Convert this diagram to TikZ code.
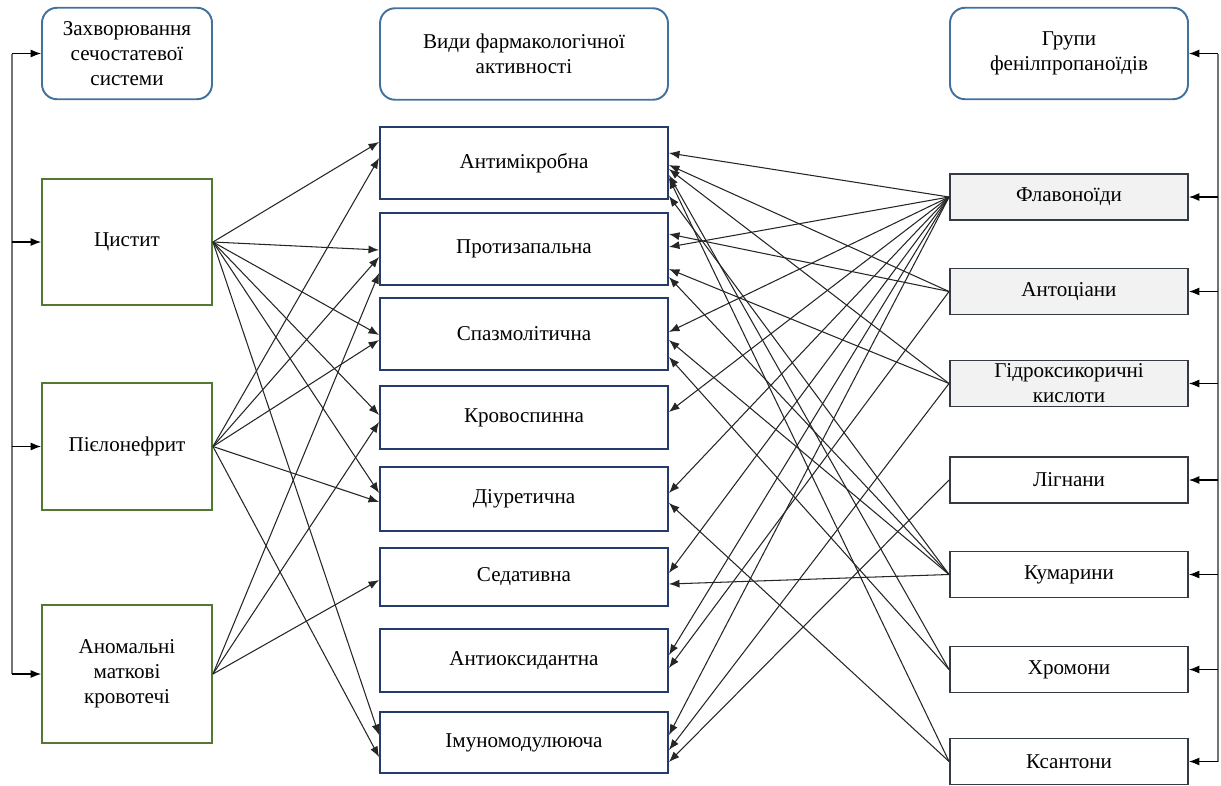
\documentclass[tikz,border=0pt]{standalone}
\usepackage{fontspec}
\setmainfont{Liberation Serif}
\usepackage{tikz}
\usetikzlibrary{arrows.meta}
\definecolor{hdrblue}{RGB}{65,113,156}
\definecolor{disgreen}{RGB}{84,120,52}
\definecolor{actblue}{RGB}{36,60,108}
\definecolor{grpgrey}{RGB}{52,58,68}
\definecolor{grpfill}{RGB}{242,242,242}
\colorlet{brline}{black!55}
\colorlet{linkline}{black!85}

\begin{document}
\begin{tikzpicture}[
x=0.02cm, y=-0.02cm,
every node/.style={font=\rmfamily\fontsize{12}{14.2}\selectfont, align=center, inner sep=0pt},
Header/.style={draw=hdrblue, line width=1.1pt, rounded corners=0.3cm, minimum height=1.83cm},
Disease/.style={draw=disgreen, line width=1.1pt, minimum width=3.4cm},
Activity/.style={draw=actblue, line width=1.1pt, minimum width=5.76cm},
Group/.style={draw=grpgrey, line width=1.1pt, minimum width=4.76cm, minimum height=0.92cm},
GroupShaded/.style={Group, fill=grpfill},
Links/.style={-{Latex[length=6pt, width=4.6pt]}, draw=linkline, line width=0.6pt},
Bracket/.style={draw=brline, line width=0.9pt},
BrArrow/.style={-{Latex[length=6pt, width=4.6pt]}, line width=0.6pt}
]
\useasboundingbox (0,0) rectangle (1221,785);

% headers
\node[Header, minimum width=3.4cm] (hdis) at (127,53.5) {Захворювання\\сечостатевої\\системи};
\node[Header, minimum width=5.76cm] (hact) at (524,54) {Види фармакологічної\\активності};
\node[Header, minimum width=4.76cm] (hgrp) at (1069,53.5) {Групи\\фенілпропаноїдів};

% diseases
\node[Disease, minimum height=2.52cm] (cyst) at (127,242) {Цистит};
\node[Disease, minimum height=2.54cm] (pyelo) at (127,446.5) {Пієлонефрит};
\node[Disease, minimum height=2.76cm] (aub) at (127,674) {Аномальні\\маткові\\кровотечі};

% kinds of activity
\node[Activity, minimum height=1.44cm] (antimicro) at (524,163) {Антимікробна};
\node[Activity, minimum height=1.44cm] (antiinfl) at (524,249) {Протизапальна};
\node[Activity, minimum height=1.44cm] (spasmo) at (524,334) {Спазмолітична};
\node[Activity, minimum height=1.26cm] (hemo) at (524,417.5) {Кровоспинна};
\node[Activity, minimum height=1.28cm] (diur) at (524,499) {Діуретична};
\node[Activity, minimum height=1.16cm] (sed) at (524,577) {Седативна};
\node[Activity, minimum height=1.26cm] (antiox) at (524,660.5) {Антиоксидантна};
\node[Activity, minimum height=1.22cm] (immuno) at (524,742.5) {Імуномодулююча};

% groups of phenylpropanoids
\node[GroupShaded] (flav) at (1069,197) {Флавоноїди};
\node[GroupShaded] (antho) at (1069,291.5) {Антоціани};
\node[GroupShaded] (hydroxy) at (1069,383.5) {Гідроксикоричні\\кислоти};
\node[Group] (lign) at (1069,480) {Лігнани};
\node[Group] (coum) at (1069,574.5) {Кумарини};
\node[Group] (chrom) at (1069,669.5) {Хромони};
\node[Group] (xanth) at (1069,761.5) {Ксантони};

% left bracket
\coordinate (ltop) at (12,53.5);
\coordinate (lbot) at (12,674);
\draw[Bracket] (ltop) -- (lbot);
\draw[BrArrow] (ltop) -- (hdis.west);
\draw[BrArrow] (ltop |- cyst.west) -- (cyst.west);
\draw[BrArrow] (ltop |- pyelo.west) -- (pyelo.west);
\draw[BrArrow] (lbot) -- (aub.west);

% right bracket
\coordinate (rtop) at (1218,53.5);
\coordinate (rbot) at (1218,761.5);
\draw[Bracket] (rtop) -- (rbot);
\draw[BrArrow] (rtop) -- (hgrp.east);
\draw[BrArrow] (rtop |- flav.east) -- (flav.east);
\draw[BrArrow] (rtop |- antho.east) -- (antho.east);
\draw[BrArrow] (rtop |- hydroxy.east) -- (hydroxy.east);
\draw[BrArrow] (rtop |- lign.east) -- (lign.east);
\draw[BrArrow] (rtop |- coum.east) -- (coum.east);
\draw[BrArrow] (rtop |- chrom.east) -- (chrom.east);
\draw[BrArrow] (rbot) -- (xanth.east);

% diseases -> activity
\draw[Links] (cyst.east) -- (antimicro.west |- 0,142);
\draw[Links] (cyst.east) -- (antiinfl.west |- 0,250);
\draw[Links] (cyst.east) -- (spasmo.west |- 0,335);
\draw[Links] (cyst.east) -- (hemo.west |- 0,415);
\draw[Links] (cyst.east) -- (diur.west |- 0,493);
\draw[Links] (cyst.east) -- (immuno.west |- 0,735);

\draw[Links] (pyelo.east) -- (antimicro.west |- 0,158);
\draw[Links] (pyelo.east) -- (antiinfl.west |- 0,257);
\draw[Links] (pyelo.east) -- (spasmo.west |- 0,340);
\draw[Links] (pyelo.east) -- (diur.west |- 0,502);
\draw[Links] (pyelo.east) -- (immuno.west |- 0,757);

\draw[Links] (aub.east) -- (antiinfl.west |- 0,273);
\draw[Links] (aub.east) -- (hemo.west |- 0,422);
\draw[Links] (aub.east) -- (sed.west |- 0,580);

% groups -> activity
\draw[Links] (flav.west) -- (antimicro.east |- 0,153);
\draw[Links] (flav.west) -- (antiinfl.east |- 0,247);
\draw[Links] (flav.west) -- (spasmo.east |- 0,332);
\draw[Links] (flav.west) -- (hemo.east |- 0,412);
\draw[Links] (flav.west) -- (diur.east |- 0,493);
\draw[Links] (flav.west) -- (sed.east |- 0,573);
\draw[Links] (flav.west) -- (antiox.east |- 0,655);
\draw[Links] (flav.west) -- (immuno.east |- 0,735);

\draw[Links] (antho.west) -- (antimicro.east |- 0,165);
\draw[Links] (antho.west) -- (antiinfl.east |- 0,234);
\draw[Links] (antho.west) -- (antiox.east |- 0,668);

\draw[Links] (hydroxy.west) -- (antimicro.east |- 0,169);
\draw[Links] (hydroxy.west) -- (antiinfl.east |- 0,269);
\draw[Links] (hydroxy.west) -- (immuno.east |- 0,750);

\draw[Links] (lign.west) -- (immuno.east |- 0,762);

\draw[Links] (coum.west) -- (antimicro.east |- 0,196);
\draw[Links] (coum.west) -- (antiinfl.east |- 0,277);
\draw[Links] (coum.west) -- (spasmo.east |- 0,340);
\draw[Links] (coum.west) -- (sed.east |- 0,584);

\draw[Links] (chrom.west) -- (antimicro.east |- 0,175);
\draw[Links] (chrom.west) -- (spasmo.east |- 0,357);

\draw[Links] (xanth.west) -- (antimicro.east |- 0,178);
\draw[Links] (xanth.west) -- (diur.east |- 0,503);

\end{tikzpicture}
\end{document}
